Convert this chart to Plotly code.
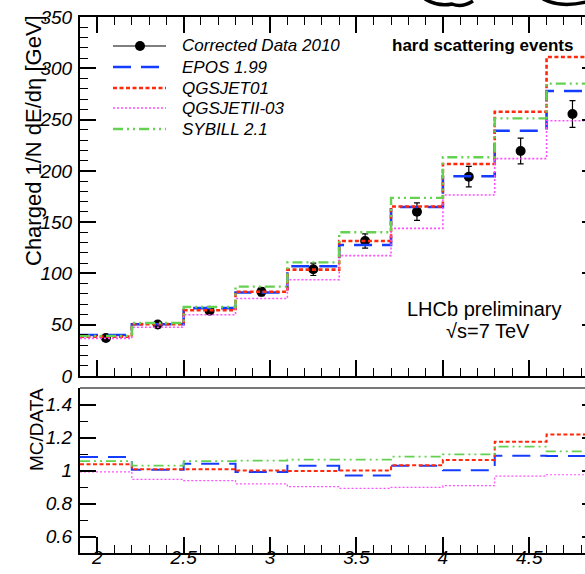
import plotly.graph_objects as go

# ---- data -------------------------------------------------------------
eta_edges = [1.9, 2.2, 2.5, 2.8, 3.1, 3.4, 3.7, 4.0, 4.3, 4.6, 4.9]

data_2010 = [37.0, 50.2, 63.6, 82.2, 104.0, 131.6, 160.2, 194.3, 219.4, 255.4]
data_err = [2.0, 2.5, 3.0, 4.0, 6.0, 7.0, 8.5, 10.0, 12.5, 13.0]

epos_199 = [40.0, 50.4, 66.2, 81.4, 107.0, 127.7, 164.8, 194.7, 239.1, 277.9]
qgsjet01 = [38.4, 50.6, 64.1, 82.2, 103.7, 131.6, 165.2, 206.7, 257.6, 311.0]
qgsjetii_03 = [36.7, 47.5, 59.7, 75.5, 93.8, 117.4, 143.9, 176.4, 211.9, 248.8]
sybill_21 = [39.1, 51.7, 67.2, 87.1, 110.8, 140.2, 173.7, 213.3, 251.2, 285.0]

series_names = ["EPOS 1.99", "QGSJET01", "QGSJETII-03", "SYBILL 2.1"]
x_ticks_major = [2, 2.5, 3, 3.5, 4, 4.5]
y_ticks_top = [0, 50, 100, 150, 200, 250, 300, 350]
y_ticks_ratio = [0.6, 0.8, 1.0, 1.2, 1.4]

# ---- styling ----------------------------------------------------------
W, H = 585, 574
ML, MR, MT, MB = 80, 0, 17, 21
FONT = "Liberation Sans, Arial, Helvetica, sans-serif"

styles = {
    "EPOS 1.99": dict(color="rgb(20,60,255)", width=2.6, dash="18px,10px"),
    "QGSJET01": dict(color="rgb(255,40,10)", width=2.6, dash="4px,2.5px"),
    "QGSJETII-03": dict(color="rgb(255,80,255)", width=1.6, dash="2px,2px"),
    "SYBILL 2.1": dict(color="rgb(100,210,80)", width=2.4,
                       dash="10px,4px,2px,4px,2px,4px"),
}
mc_values = {
    "EPOS 1.99": epos_199,
    "QGSJET01": qgsjet01,
    "QGSJETII-03": qgsjetii_03,
    "SYBILL 2.1": sybill_21,
}

plot_w = W - ML - MR
plot_h = H - MT - MB


def px_x(px):
    return (px - ML) / plot_w


def px_y(py):
    return (H - MB - py) / plot_h


def step_y(vals):
    return list(vals) + [vals[-1]]


def italic_labels(vals):
    return [f"<i>{v:g}</i>" for v in vals]


centers = [(a + b) / 2 for a, b in zip(eta_edges[:-1], eta_edges[1:])]

fig = go.Figure()

# data points with error bars (upper panel)
fig.add_trace(go.Scatter(
    x=centers, y=data_2010, mode="markers",
    marker=dict(color="black", size=10, symbol="circle"),
    error_y=dict(type="data", array=data_err, color="black",
                 thickness=1.2, width=3),
    xaxis="x", yaxis="y", showlegend=False,
))

# model predictions as step histograms (upper panel) and ratios (lower panel)
for name in series_names:
    vals = mc_values[name]
    st = styles[name]
    fig.add_trace(go.Scatter(
        x=eta_edges, y=step_y(vals), mode="lines", line_shape="hv",
        line=dict(color=st["color"], width=st["width"], dash=st["dash"]),
        xaxis="x", yaxis="y", showlegend=False, name=name,
    ))
    ratio = [m / d for m, d in zip(vals, data_2010)]
    fig.add_trace(go.Scatter(
        x=eta_edges, y=step_y(ratio), mode="lines", line_shape="hv",
        line=dict(color=st["color"], width=max(st["width"] - 0.6, 1.2),
                  dash=st["dash"]),
        xaxis="x2", yaxis="y2", showlegend=False, name=name,
    ))

# empty traces that bring the auxiliary axes (labels, right-hand ticks) to life
for xa, ya in (("x3", "y2"), ("x", "y3"), ("x2", "y4")):
    fig.add_trace(go.Scatter(x=[], y=[], xaxis=xa, yaxis=ya,
                             showlegend=False, hoverinfo="skip"))

x_range = [1.9, 1.9 + plot_w / 172.8]
top_dom = [px_y(376), 1.0]
bot_dom = [0.0, px_y(388)]

tickfont = dict(family=FONT, size=19, color="black")

common_axis = dict(
    showline=True, linecolor="black", linewidth=2, showgrid=False,
    zeroline=False, ticks="inside", ticklen=16, tickwidth=1.5,
    tickcolor="black", automargin=False,
)
bare_axis = dict(showline=False, showgrid=False, zeroline=False,
                 automargin=False)

fig.update_layout(
    width=W, height=H,
    margin=dict(l=ML, r=MR, t=MT, b=MB, pad=0, autoexpand=False),
    paper_bgcolor="white", plot_bgcolor="white",
    showlegend=False,
    xaxis=dict(common_axis, domain=[0, 1], range=x_range, anchor="y",
               mirror="ticks", tick0=0, dtick=0.5, showticklabels=False,
               minor=dict(ticks="inside", ticklen=8, dtick=0.1, tick0=0,
                          tickwidth=1, tickcolor="black")),
    yaxis=dict(common_axis, domain=top_dom, range=[0, 350], anchor="x",
               tickvals=y_ticks_top, ticktext=italic_labels(y_ticks_top),
               tickfont=tickfont, ticklabelstandoff=2,
               minor=dict(ticks="inside", ticklen=8, dtick=10,
                          tickwidth=1, tickcolor="black")),
    xaxis2=dict(common_axis, domain=[0, 1], range=x_range, anchor="y2",
                matches="x", tickvals=x_ticks_major, showticklabels=False,
                minor=dict(ticks="inside", ticklen=8, dtick=0.1, tick0=0,
                           tickwidth=1, tickcolor="black")),
    # tick labels of the ratio panel, lifted closer to the axis line
    xaxis3=dict(bare_axis, overlaying="x2", anchor="free", position=0.017,
                matches="x", range=x_range, ticks="",
                tickvals=x_ticks_major, ticktext=italic_labels(x_ticks_major),
                tickfont=tickfont),
    yaxis2=dict(common_axis, domain=bot_dom, range=[0.5, 1.5], anchor="x2",
                tickvals=y_ticks_ratio, ticktext=italic_labels(y_ticks_ratio),
                tickfont=tickfont, ticklabelstandoff=2,
                minor=dict(ticks="inside", ticklen=8, dtick=0.1, tick0=0,
                           tickwidth=1, tickcolor="black")),
    # short ticks along the right-hand frame edge
    yaxis3=dict(bare_axis, overlaying="y", side="right", anchor="x",
                range=[0, 350], tickvals=y_ticks_top, showticklabels=False,
                ticks="inside", ticklen=3, tickwidth=1.5, tickcolor="black"),
    yaxis4=dict(bare_axis, overlaying="y2", side="right", anchor="x2",
                range=[0.5, 1.5], tickvals=y_ticks_ratio,
                showticklabels=False, ticks="inside", ticklen=3,
                tickwidth=1.5, tickcolor="black"),
)

shapes = []
# grey top border of the ratio pad
shapes.append(dict(type="line", xref="paper", yref="paper",
                   x0=0, x1=1, y0=bot_dom[1], y1=bot_dom[1],
                   line=dict(color="rgb(120,120,120)", width=2)))

# logo fragments peeking in at the top edge
shapes.append(dict(type="path", xref="paper", yref="paper",
                   path=(f"M {px_x(425)},{px_y(-1)} Q {px_x(438)},{px_y(7)} "
                         f"{px_x(452)},{px_y(4)} Q {px_x(462)},{px_y(8)} "
                         f"{px_x(473)},{px_y(1)}"),
                   line=dict(color="black", width=3.5)))
shapes.append(dict(type="path", xref="paper", yref="paper",
                   path=(f"M {px_x(543)},{px_y(-1)} Q {px_x(560)},{px_y(8)} "
                         f"{px_x(586)},{px_y(2)}"),
                   line=dict(color="black", width=3.5)))

annotations = []

# legend
legend_rows = [46, 67, 88, 108, 129]
legend_labels = ["Corrected Data 2010"] + series_names
lx0, lx1, ltx = 113, 166, 180
for row, label in zip(legend_rows, legend_labels):
    if label == "Corrected Data 2010":
        shapes.append(dict(type="line", xref="paper", yref="paper",
                           x0=px_x(lx0), x1=px_x(lx1),
                           y0=px_y(row), y1=px_y(row),
                           line=dict(color="black", width=1.2)))
        shapes.append(dict(type="circle", xref="paper", yref="paper",
                           x0=px_x(140 - 5), x1=px_x(140 + 5),
                           y0=px_y(row + 5), y1=px_y(row - 5),
                           fillcolor="black", line=dict(color="black", width=0)))
    else:
        st = styles[label]
        shapes.append(dict(type="line", xref="paper", yref="paper",
                           x0=px_x(lx0), x1=px_x(lx1),
                           y0=px_y(row), y1=px_y(row),
                           line=dict(color=st["color"], width=st["width"],
                                     dash=st["dash"])))
    annotations.append(dict(
        text=f"<i>{label}</i>", xref="paper", yref="paper", x=px_x(ltx),
        y=px_y(row), xanchor="left", yanchor="middle", showarrow=False,
        font=dict(family=FONT, size=17, color="black"),
    ))

annotations += [
    dict(text="<b>hard scattering events</b>", xref="paper", yref="paper",
         x=px_x(482), y=px_y(46), xanchor="center", yanchor="middle",
         showarrow=False, font=dict(family=FONT, size=17, color="black")),
    dict(text="LHCb preliminary", xref="paper", yref="paper",
         x=px_x(484), y=px_y(309), xanchor="center", yanchor="middle",
         showarrow=False, font=dict(family=FONT, size=20, color="black")),
    dict(text="√s=7 TeV", xref="paper", yref="paper",
         x=px_x(488), y=px_y(331), xanchor="center", yanchor="middle",
         showarrow=False, font=dict(family=FONT, size=20, color="black")),
    dict(text="Charged 1/N dE/dη [GeV]", xref="paper", yref="paper",
         x=px_x(33), y=px_y(141), xanchor="center", yanchor="middle",
         textangle=-90, showarrow=False,
         font=dict(family=FONT, size=22, color="black")),
    dict(text="MC/DATA", xref="paper", yref="paper",
         x=px_x(36), y=px_y(430), xanchor="center", yanchor="middle",
         textangle=-90, showarrow=False,
         font=dict(family=FONT, size=19, color="black")),
]

fig.update_layout(shapes=shapes, annotations=annotations)

fig.write_html("out.html")
